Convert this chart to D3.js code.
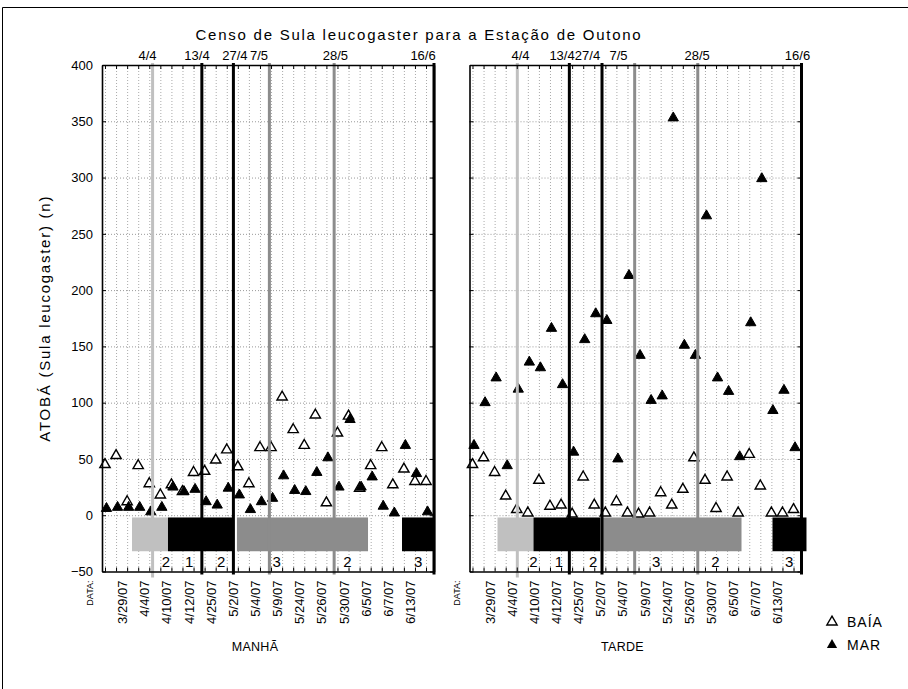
<!DOCTYPE html>
<html>
<head>
<meta charset="utf-8">
<script src="https://cdn.jsdelivr.net/npm/d3@7"></script>
<style>
body { margin: 0; background: #fff; }
text { font-family: Arial, "Liberation Sans", sans-serif; fill: #000; }
</style>
</head>
<body>
<div id="chart"></div>
<script>
// case numbers (one per sampling), labels every second case
var cases = d3.range(1, 31);
var dateCases = [3, 5, 7, 9, 11, 13, 15, 17, 19, 21, 23, 25, 27, 29];
var dateLabels = ["3/29/07", "4/4/07", "4/10/07", "4/12/07", "4/25/07", "5/2/07", "5/4/07",
    "5/9/07", "5/24/07", "5/26/07", "5/30/07", "6/5/07", "6/7/07", "6/13/07"];
var yTicks = [-50, 0, 50, 100, 150, 200, 250, 300, 350, 400];

// MANHA
var manhaBaia = [45, 53, 12, 44, 28, 18, 27, 21, 38, 39, 49, 58, 43, 28, 60,
    60, 105, 76, 62, 89, 11, 73, 88, 24, 44, 60, 27, 41, 30, 30];
var manhaMar = [6, 7, 7, 7, 3, 7, 25, 21, 23, 12, 9, 24, 18, 5, 12,
    15, 35, 22, 21, 38, 51, 25, 85, 25, 34, 8, 2, 62, 37, 3];
// TARDE
var tardeBaia = [45, 51, 38, 17, 5, 2, 31, 8, 9, 1, 34, 9, 2, 12, 2,
    1, 2, 20, 9, 23, 51, 31, 6, 34, 2, 54, 26, 2, 2, 5];
var tardeMar = [62, 100, 122, 44, 112, 136, 131, 166, 116, 56, 156, 179, 173, 50, 213,
    142, 102, 106, 353, 151, 142, 266, 122, 110, 52, 171, 299, 93, 111, 60];

// reference dates (in case units)
var refNames = ["4/4", "13/4", "27/4", "7/5", "28/5", "16/6"];
var refTones = ["light", "black", "black", "mid", "mid", "black"];
var manhaRef = [5.3, 9.75, 12.6, 15.85, 21.7, 30.72];
var tardeRef = [5.05, 9.75, 12.7, 15.65, 21.35, 30.72];
var manhaRefLabelAt = [4.84, 9.31, 12.74, 14.91, 21.81, 29.73];
var tardeRefLabelAt = [5.34, 9.09, 11.39, 14.19, 21.3, 30.36];

// period bars (case units)
var barTones = ["light", "black", "mid", "black"];
var manhaBars = [[3.44, 6.69], [6.69, 12.65], [12.92, 24.76], [27.83, 30.72]];
var tardeBars = [[3.26, 6.51], [6.51, 12.56], [12.56, 25.3], [28.1, 31.17]];
var barLabels = ["2", "1", "2", "3", "2", "3"];
var manhaBarLabelAt = [6.5, 8.6, 11.5, 16.5, 22.9, 29.3];
var tardeBarLabelAt = [6.5, 8.8, 11.9, 17.6, 22.95, 29.6];

var width = 908,
    height = 689;

var tone = { light: "#c0c0c0", mid: "#8c8c8c", black: "#000" };

var svg = d3.select("#chart").append("svg")
    .attr("width", width)
    .attr("height", height);

svg.append("rect").attr("width", width).attr("height", height).attr("fill", "#fff");
svg.append("path")
    .attr("d", "M2.5," + height + "V7.5H" + width)
    .attr("fill", "none").attr("stroke", "#000");

var y = d3.scaleLinear().domain([-50, 400]).range([571.5, 65]);
var panelW = 332;
var tri = d3.symbol().type(d3.symbolTriangle).size(46);

svg.append("text")
    .attr("x", 419).attr("y", 40)
    .attr("text-anchor", "middle")
    .style("font-size", "15px").style("letter-spacing", "1.75px")
    .text("Censo de Sula leucogaster para a Estação de Outono");

svg.append("text")
    .attr("transform", "translate(45," + y(175) + ") rotate(-90)")
    .attr("text-anchor", "middle").attr("dy", "0.35em")
    .style("font-size", "15px").style("letter-spacing", "1.75px")
    .text("ATOBÁ (Sula leucogaster) (n)");

drawPanel(102, {
    baia: manhaBaia, mar: manhaMar, ref: manhaRef, refLabelAt: manhaRefLabelAt,
    bars: manhaBars, barLabelAt: manhaBarLabelAt, title: "MANHÃ", yLabels: true
});
drawPanel(469.5, {
    baia: tardeBaia, mar: tardeMar, ref: tardeRef, refLabelAt: tardeRefLabelAt,
    bars: tardeBars, barLabelAt: tardeBarLabelAt, title: "TARDE", yLabels: false
});

function drawPanel(left, p) {
    var x = d3.scaleLinear().domain([0.73, 30.72]).range([left, left + panelW]);
    var g = svg.append("g");

    // dotted grid
    g.append("g").selectAll("line")
        .data(yTicks.filter(function (v) { return v > -50 && v < 400; }))
        .enter().append("line")
        .attr("x1", left).attr("x2", left + panelW)
        .attr("y1", function (d) { return y(d) + 0.5; })
        .attr("y2", function (d) { return y(d) + 0.5; })
        .attr("stroke", "#999").attr("stroke-dasharray", "1,2");
    g.append("g").selectAll("line")
        .data(cases)
        .enter().append("line")
        .attr("x1", function (d) { return x(d) + 0.5; })
        .attr("x2", function (d) { return x(d) + 0.5; })
        .attr("y1", y(400)).attr("y2", y(-50))
        .attr("stroke", "#aaa").attr("stroke-dasharray", "1,2");

    // period bars
    g.append("g").selectAll("rect")
        .data(p.bars)
        .enter().append("rect")
        .attr("x", function (d) { return x(d[0]); })
        .attr("width", function (d) { return x(d[1]) - x(d[0]); })
        .attr("y", y(-2))
        .attr("height", y(-32) - y(-2))
        .attr("fill", function (d, i) { return tone[barTones[i]]; });

    g.append("g").selectAll("text")
        .data(barLabels)
        .enter().append("text")
        .attr("x", function (d, i) { return x(p.barLabelAt[i]); })
        .attr("y", y(-41))
        .attr("dy", "0.35em")
        .attr("text-anchor", "middle")
        .style("font-size", "15px")
        .text(function (d) { return d; });

    // markers: BAIA (open) then MAR (filled)
    g.append("g").selectAll("path")
        .data(p.baia)
        .enter().append("path")
        .attr("transform", function (d, i) { return "translate(" + x(cases[i]) + "," + y(d) + ")"; })
        .attr("d", tri)
        .attr("fill", "#fff").attr("stroke", "#000").attr("stroke-width", 1.4);
    g.append("g").selectAll("path")
        .data(p.mar)
        .enter().append("path")
        .attr("transform", function (d, i) { return "translate(" + (x(cases[i]) + 1.5) + "," + y(d) + ")"; })
        .attr("d", tri)
        .attr("fill", "#000").attr("stroke", "#000").attr("stroke-width", 1);

    // reference lines
    g.append("g").selectAll("line")
        .data(p.ref)
        .enter().append("line")
        .attr("x1", function (d) { return x(d); })
        .attr("x2", function (d) { return x(d); })
        .attr("y1", y(400) - 2).attr("y2", function (d, i) { return y(-50) + (refTones[i] == "light" ? 6 : 3); })
        .attr("stroke", function (d, i) { return tone[refTones[i]]; })
        .attr("stroke-width", 3);

    g.append("g").selectAll("text")
        .data(refNames)
        .enter().append("text")
        .attr("x", function (d, i) { return x(p.refLabelAt[i]); })
        .attr("y", 60)
        .attr("text-anchor", "middle")
        .style("font-size", "13px")
        .text(function (d) { return d; });

    // axes frame with inner ticks
    var axL = g.append("g").attr("transform", "translate(" + left + ",0)")
        .call(d3.axisLeft(y).tickValues(yTicks).tickSize(-4).tickSizeOuter(0).tickPadding(9)
            .tickFormat(p.yLabels ? d3.format("d") : ""));
    var axR = g.append("g").attr("transform", "translate(" + (left + panelW) + ",0)")
        .call(d3.axisRight(y).tickValues(yTicks).tickSize(-4).tickSizeOuter(0).tickFormat(""));
    var axB = g.append("g").attr("transform", "translate(0," + y(-50) + ")")
        .call(d3.axisBottom(x).tickValues(cases).tickSize(-4).tickSizeOuter(0).tickFormat(""));
    var axT = g.append("g").attr("transform", "translate(0," + y(400) + ")")
        .call(d3.axisTop(x).tickValues(cases).tickSize(-4).tickSizeOuter(0).tickFormat(""));
    [axL, axR, axB, axT].forEach(function (a) {
        a.select(".domain").attr("stroke", "#000").attr("stroke-width", 1.6);
        a.selectAll(".tick line").attr("stroke", "#000");
    });
    axL.selectAll("text").style("font-size", "13px").style("font-family", "Arial, 'Liberation Sans', sans-serif");

    // date labels under the axis
    g.append("g").selectAll("text")
        .data(dateLabels)
        .enter().append("text")
        .attr("transform", function (d, i) {
            return "translate(" + x(dateCases[i]) + "," + (y(-50) + 9) + ") rotate(-90)";
        })
        .attr("text-anchor", "end")
        .style("font-size", "13px")
        .text(function (d) { return d; });

    g.append("text")
        .attr("transform", "translate(" + (left - 9.5) + "," + (y(-50) + 9) + ") rotate(-90)")
        .attr("text-anchor", "end")
        .style("font-size", "9px")
        .text("DATA:");

    g.append("text")
        .attr("x", left + panelW / 2 - 13)
        .attr("y", 651)
        .attr("text-anchor", "middle")
        .style("font-size", "12.5px").style("letter-spacing", "0.3px")
        .text(p.title);
}

// legend
var legend = svg.append("g").attr("transform", "translate(832,0)");
legend.append("path").attr("transform", "translate(0,622)").attr("d", tri)
    .attr("fill", "#fff").attr("stroke", "#000").attr("stroke-width", 1.4);
legend.append("path").attr("transform", "translate(0,645)").attr("d", tri)
    .attr("fill", "#000");
legend.append("text").attr("x", 15).attr("y", 622).attr("dy", "0.35em")
    .style("font-size", "14px").style("letter-spacing", "1px").text("BAÍA");
legend.append("text").attr("x", 15).attr("y", 645).attr("dy", "0.35em")
    .style("font-size", "14px").style("letter-spacing", "1px").text("MAR");
</script>
</body>
</html>
